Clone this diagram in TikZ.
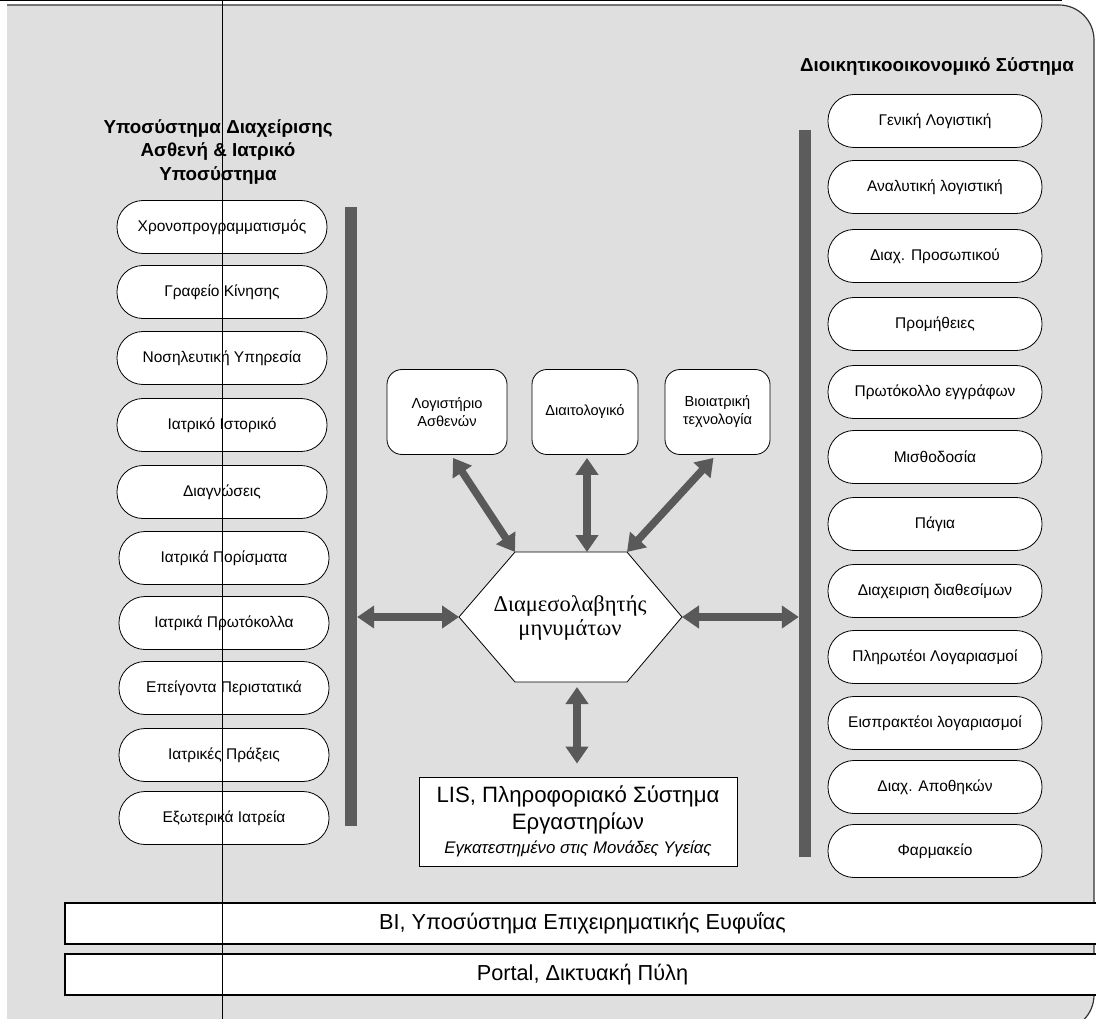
\documentclass[tikz,border=0pt]{standalone}
\usepackage{fontspec}
\setmainfont{Liberation Sans}
\newfontfamily\grserif{Liberation Serif}
\usetikzlibrary{arrows.meta,calc}
\definecolor{bggray}{HTML}{DFDFDF}
\definecolor{bargray}{HTML}{5C5C5C}
\definecolor{arrgray}{HTML}{595959}
\tikzset{
  pill/.style={draw=black, line width=0.8pt, fill=white, rounded corners=26pt,
    minimum height=53pt, inner sep=0pt, font=\fontsize{15.5}{18}\selectfont},
  lpill/.style={pill, minimum width=210pt},
  rpill/.style={pill, minimum width=214pt},
  topbox/.style={draw=black, line width=0.8pt, fill=white, rounded corners=15pt,
    minimum height=85pt, inner sep=2pt, align=center, font=\fontsize{14.6}{18}\selectfont},
  bar/.style={fill=bargray, draw=none, minimum width=12pt, inner sep=0pt},
  bigarrow/.style={draw=arrgray, line width=7.5pt,
    {Triangle[length=17pt,width=22pt]}-{Triangle[length=17pt,width=22pt]}},
  title/.style={font=\bfseries\fontsize{18.8}{23.5}\selectfont, align=center},
  band/.style={draw=black, line width=1.2pt, fill=white, minimum width=1035pt,
    minimum height=41pt, inner sep=0pt, font=\fontsize{21.7}{25}\selectfont}
}
\begin{document}
\begin{tikzpicture}[x=1pt,y=-1pt]
\useasboundingbox (0,0) rectangle (1096,1019);
% background frame
\path[fill=bggray] (7,1030) -- (7,5) -- (1059,5) arc[start angle=-90,end angle=0,radius=35]
  -- (1094,995) arc[start angle=0,end angle=90,radius=35] -- cycle;
\draw[line width=1.2pt, black!80] (7,5) -- (1059,5) arc[start angle=-90,end angle=0,radius=35]
  -- (1094,995) arc[start angle=0,end angle=90,radius=35];
\draw[line width=1pt] (0,1) -- (1062,1);

% titles
\node[title] (ltitle) at (218,152) {Υποσύστημα Διαχείρισης\\Ασθενή \& Ιατρικό\\Υποσύστημα};
\node[title] (rtitle) at (937,67) {Διοικητικοοικονομικό Σύστημα};

% left column
\node[lpill] (l1) at (222,227) {Χρονοπρογραμματισμός};
\node[lpill] (l2) at (222,292) {Γραφείο Κίνησης};
\node[lpill] (l3) at (222,358) {Νοσηλευτική Υπηρεσία};
\node[lpill] (l4) at (222,425) {Ιατρικό Ιστορικό};
\node[lpill] (l5) at (222,492) {Διαγνώσεις};
\node[lpill] (l6) at (224,558) {Ιατρικά Πορίσματα};
\node[lpill] (l7) at (224,623) {Ιατρικά Πρωτόκολλα};
\node[lpill] (l8) at (224,688) {Επείγοντα Περιστατικά};
\node[lpill] (l9) at (224,755) {Ιατρικές Πράξεις};
\node[lpill] (l10) at (224,818) {Εξωτερικά Ιατρεία};

% right column
\node[rpill] (r1) at (935,121) {Γενική Λογιστική};
\node[rpill] (r2) at (935,187) {Αναλυτική λογιστική};
\node[rpill] (r3) at (935,256) {Διαχ. Προσωπικού};
\node[rpill] (r4) at (935,324) {Προμήθειες};
\node[rpill] (r5) at (935,392) {Πρωτόκολλο εγγράφων};
\node[rpill] (r6) at (935,457) {Μισθοδοσία};
\node[rpill] (r7) at (935,524) {Πάγια};
\node[rpill] (r8) at (935,591) {Διαχειριση διαθεσίμων};
\node[rpill] (r9) at (935,657) {Πληρωτέοι Λογαριασμοί};
\node[rpill] (r10) at (935,723) {Εισπρακτέοι λογαριασμοί};
\node[rpill] (r11) at (935,787) {Διαχ. Αποθηκών};
\node[rpill] (r12) at (935,851) {Φαρμακείο};

% bars
\node[bar, minimum height=619pt] (lbar) at (351,516.5) {};
\node[bar, minimum height=727pt] (rbar) at (805,493.5) {};

% top boxes
\node[topbox, minimum width=120pt] (lb) at (447,412) {Λογιστήριο\\Ασθενών};
\node[topbox, minimum width=106pt] (dt) at (585,412) {Διαιτολογικό};
\node[topbox, minimum width=105pt] (bt) at (717.5,412) {Βιοιατρική\\τεχνολογία};

% hexagon
\coordinate (hexL) at (459,617);
\coordinate (hexTL) at (515,552);
\coordinate (hexTR) at (627,552);
\coordinate (hexR) at (682,617);
\coordinate (hexBR) at (627,682);
\coordinate (hexBL) at (515,682);
\draw[line width=0.8pt, fill=white] (hexL) -- (hexTL) -- (hexTR) -- (hexR) -- (hexBR) -- (hexBL) -- cycle;
\node[align=center, font=\grserif\fontsize{22.5}{24}\selectfont] (hex) at (570,618) {Διαμεσολαβητής\\μηνυμάτων};

% LIS box
\node[draw=black, line width=0.9pt, fill=white, minimum width=318pt, minimum height=89pt,
  inner sep=0pt, align=center, font=\fontsize{22.2}{27}\selectfont] (lis) at (578,821.5)
  {LIS, Πληροφοριακό Σύστημα\\
   Εργαστηρίων\\[-3pt]
   {\fontsize{16.8}{20}\selectfont\itshape Εγκατεστημένο στις Μονάδες Υγείας}};

% bands
\node[band] (bi) at (582.5,923.5) {BI, Υποσύστημα Επιχειρηματικής Ευφυΐας};
\node[band] (portal) at (582.5,974.5) {Portal, Δικτυακή Πύλη};

% arrows
\draw[bigarrow] ([xshift=6pt,yshift=-3pt]lb.south) -- (hexTL);
\draw[bigarrow] ([xshift=2pt,yshift=-3pt]dt.south) -- ([xshift=2pt]dt.south |- hexTL);
\draw[bigarrow] ([xshift=-4pt,yshift=-3pt]bt.south) -- (hexTR);
\draw[bigarrow] (lbar.east |- hexL) -- (hexL);
\draw[bigarrow] (hexR) -- (rbar.west |- hexR);
\draw[bigarrow] ([xshift=7pt,yshift=-5pt]hex.south |- hexBL) -- ([xshift=-1pt,yshift=13pt]lis.north);

% scan line
\draw[line width=0.8pt] (222.5,0) -- (222.5,1019);
\end{tikzpicture}
\end{document}
